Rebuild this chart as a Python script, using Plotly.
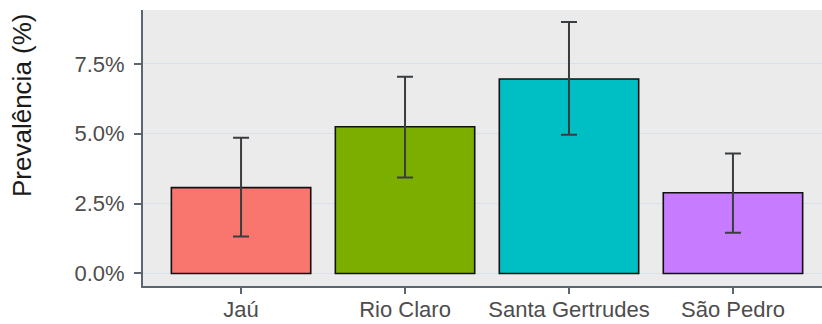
import plotly.graph_objects as go

# Prevalence by municipality with confidence intervals
municipios = ["Jaú", "Rio Claro", "Santa Gertrudes", "São Pedro"]
prevalencia = [3.07, 5.25, 6.96, 2.89]
ic_superior = [4.86, 7.04, 9.00, 4.29]
ic_inferior = [1.32, 3.43, 4.96, 1.46]
cores = ["#F8766D", "#7CAE00", "#00BFC4", "#C77CFF"]

y_ticks = [0, 2.5, 5.0, 7.5]
y_tick_labels = ["0.0%", "2.5%", "5.0%", "7.5%"]
y_title = "Prevalência (%)"

err_plus = [u - p for u, p in zip(ic_superior, prevalencia)]
err_minus = [p - l for p, l in zip(prevalencia, ic_inferior)]

axis_col = "#5b6670"
text_col = "#4d4d4d"

fig = go.Figure()
fig.add_trace(go.Bar(
    x=municipios,
    y=prevalencia,
    width=0.85,
    marker=dict(color=cores, line=dict(color="#111111", width=1.6)),
    error_y=dict(
        type="data",
        symmetric=False,
        array=err_plus,
        arrayminus=err_minus,
        color="#3a3d40",
        thickness=2,
        width=8,
    ),
    showlegend=False,
))

fig.update_layout(
    width=822,
    height=324,
    margin=dict(l=143, r=0, t=10, b=38),
    paper_bgcolor="white",
    plot_bgcolor="#EBEBEB",
    font=dict(family="Liberation Sans, Arial, sans-serif", size=22, color=text_col),
    bargap=0.15,
)

fig.update_xaxes(
    type="category",
    range=[-0.598, 3.543],
    showgrid=False,
    showline=True,
    linecolor=axis_col,
    linewidth=2,
    ticks="outside",
    ticklen=6,
    tickwidth=1.6,
    tickcolor=axis_col,
    tickfont=dict(size=22, color=text_col),
    ticklabelstandoff=-3,
)

fig.update_yaxes(
    range=[-0.45, 9.43],
    tickvals=y_ticks,
    ticktext=y_tick_labels,
    showgrid=True,
    gridcolor="#DAE0E7",
    gridwidth=1.2,
    zeroline=False,
    showline=True,
    linecolor=axis_col,
    linewidth=2,
    ticks="outside",
    ticklen=7,
    tickwidth=1.6,
    tickcolor=axis_col,
    tickfont=dict(size=22, color=text_col),
    ticklabelstandoff=5,
)

# Axis title placed as a rotated annotation in the left margin
fig.add_annotation(
    text=y_title,
    xref="paper", yref="paper",
    x=(22 - 143) / 679, y=(286 - 105) / 276,
    xanchor="center", yanchor="middle",
    textangle=-90,
    showarrow=False,
    font=dict(size=26, color="#1a1a1a"),
)

fig.write_html("out.html")
